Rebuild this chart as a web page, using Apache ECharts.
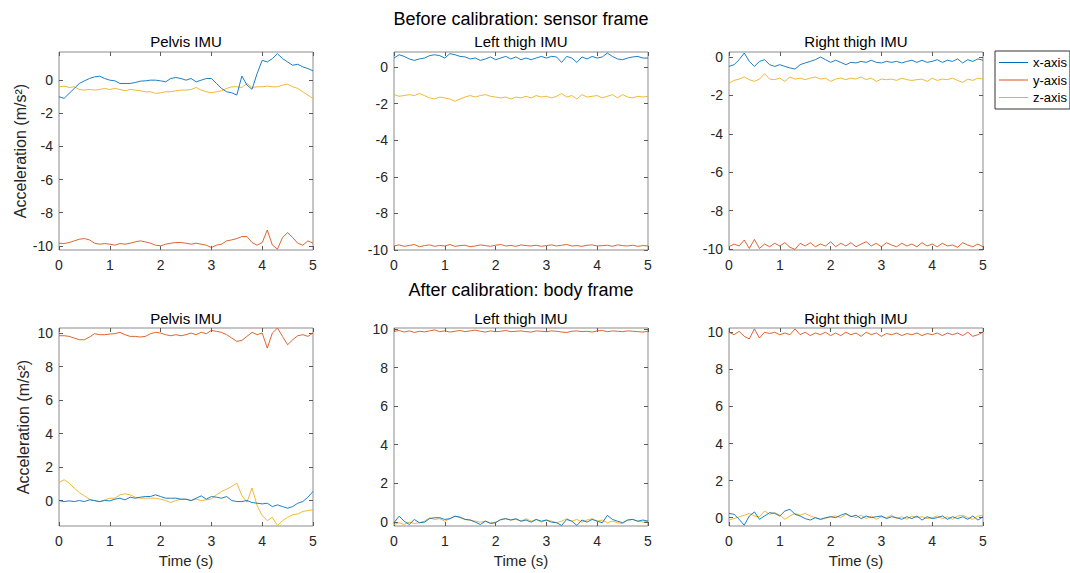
<!DOCTYPE html>
<html>
<head>
<meta charset="utf-8">
<script src="https://cdn.jsdelivr.net/npm/echarts@6/dist/echarts.min.js"></script>
<style>
  html, body { margin: 0; padding: 0; background: #fff; }
  #chart { width: 1070px; height: 573px; }
</style>
</head>
<body>
<div id="chart"></div>
<script type="text/javascript">
    // time samples (s)
    var times = [0, 0.1, 0.2, 0.3, 0.4, 0.5, 0.6, 0.7, 0.8, 0.9,
        1, 1.1, 1.2, 1.3, 1.4, 1.5, 1.6, 1.7, 1.8, 1.9,
        2, 2.1, 2.2, 2.3, 2.4, 2.5, 2.6, 2.7, 2.8, 2.9,
        3, 3.1, 3.2, 3.3, 3.4, 3.5, 3.6, 3.7, 3.8, 3.9,
        4, 4.1, 4.2, 4.3, 4.4, 4.5, 4.6, 4.7, 4.8, 4.9, 5];

    var xTicks = [0, 1, 2, 3, 4, 5];
    var yTicksBefore = [-10, -8, -6, -4, -2, 0];
    var yTicksAfter = [0, 2, 4, 6, 8, 10];
    var axisNames = ['x-axis', 'y-axis', 'z-axis'];
    var panelTitles = ['Pelvis IMU', 'Left thigh IMU', 'Right thigh IMU'];
    var rowTitles = ['Before calibration: sensor frame', 'After calibration: body frame'];

    // before calibration: sensor frame
    var pelvisBeforeX = [-1.0, -1.1, -0.8, -0.5, -0.2, -0.04, 0.1, 0.2, 0.24, 0.1,
        0, -0.04, -0.2, -0.2, -0.2, -0.14, -0.06, -0.04, 0, 0,
        -0.04, -0.1, 0.1, 0.16, 0.1, 0, 0.1, -0.1, 0, 0.1,
        0.1, -0.2, -0.5, -0.7, -0.76, -0.9, 0.25, -0.3, -0.55, 0.4,
        1.2, 1.1, 1.3, 1.6, 1.3, 1.1, 0.9, 0.96, 0.8, 0.7, 0.56];
    var pelvisBeforeY = [-9.84, -9.86, -9.8, -9.7, -9.6, -9.56, -9.64, -9.84, -9.9, -9.86,
        -9.9, -9.96, -9.86, -9.9, -9.84, -9.76, -9.7, -9.76, -9.84, -9.96,
        -10.0, -9.9, -9.84, -9.8, -9.8, -9.84, -9.9, -9.84, -9.9, -9.96,
        -10.1, -9.96, -9.9, -9.7, -9.64, -9.56, -9.44, -9.44, -9.8, -9.96,
        -9.8, -9.05, -9.95, -10.2, -9.5, -9.2, -9.5, -9.84, -9.96, -9.7, -9.84];
    var pelvisBeforeZ = [-0.4, -0.36, -0.44, -0.4, -0.56, -0.6, -0.56, -0.6, -0.56, -0.5,
        -0.56, -0.5, -0.56, -0.64, -0.56, -0.6, -0.64, -0.7, -0.7, -0.8,
        -0.76, -0.7, -0.7, -0.64, -0.6, -0.6, -0.56, -0.44, -0.6, -0.7,
        -0.76, -0.7, -0.64, -0.5, -0.4, -0.4, -0.44, -0.2, -0.44, -0.4,
        -0.4, -0.36, -0.4, -0.4, -0.3, -0.24, -0.4, -0.5, -0.7, -0.9, -1.1];

    var leftBeforeX = [0.49, 0.67, 0.58, 0.44, 0.36, 0.44, 0.49, 0.62, 0.67, 0.62,
        0.49, 0.73, 0.67, 0.58, 0.55, 0.44, 0.49, 0.36, 0.44, 0.55,
        0.4, 0.49, 0.58, 0.44, 0.55, 0.4, 0.49, 0.4, 0.49, 0.58,
        0.49, 0.58, 0.55, 0.25, 0.58, 0.49, 0.25, 0.55, 0.44, 0.58,
        0.49, 0.55, 0.76, 0.58, 0.44, 0.4, 0.49, 0.55, 0.58, 0.49, 0.49];
    var leftBeforeY = [-9.78, -9.72, -9.8, -9.75, -9.7, -9.82, -9.76, -9.72, -9.8, -9.75,
        -9.78, -9.7, -9.8, -9.76, -9.74, -9.82, -9.78, -9.72, -9.76, -9.8,
        -9.74, -9.7, -9.78, -9.75, -9.8, -9.72, -9.76, -9.78, -9.74, -9.8,
        -9.76, -9.72, -9.78, -9.74, -9.7, -9.78, -9.76, -9.8, -9.74, -9.72,
        -9.78, -9.76, -9.74, -9.8, -9.72, -9.76, -9.78, -9.74, -9.8, -9.76, -9.78];
    var leftBeforeZ = [-1.51, -1.6, -1.56, -1.51, -1.56, -1.45, -1.56, -1.69, -1.75, -1.64,
        -1.69, -1.75, -1.87, -1.75, -1.64, -1.56, -1.64, -1.56, -1.51, -1.6,
        -1.64, -1.69, -1.64, -1.75, -1.64, -1.69, -1.6, -1.69, -1.56, -1.64,
        -1.6, -1.69, -1.6, -1.45, -1.64, -1.56, -1.75, -1.51, -1.64, -1.6,
        -1.56, -1.69, -1.6, -1.51, -1.69, -1.51, -1.64, -1.69, -1.6, -1.64, -1.6];

    var rightBeforeX = [-0.49, -0.4, -0.14, 0.21, -0.23, -0.49, -0.23, -0.14, -0.4, -0.49,
        -0.4, -0.49, -0.57, -0.63, -0.4, -0.31, -0.23, -0.14, 0, -0.14,
        -0.28, -0.17, -0.28, -0.4, -0.28, -0.31, -0.23, -0.28, -0.17, -0.28,
        -0.31, -0.23, -0.28, -0.23, -0.31, -0.23, -0.17, -0.28, -0.17, -0.28,
        -0.23, -0.14, -0.28, -0.17, -0.23, -0.1, -0.31, -0.14, -0.23, -0.1, -0.17];
    var rightBeforeY = [-9.88, -9.74, -9.84, -9.53, -9.97, -9.5, -9.97, -9.74, -9.88, -9.7,
        -9.84, -9.67, -9.91, -10.02, -9.7, -9.84, -9.67, -9.88, -9.74, -9.84,
        -9.62, -9.88, -9.7, -9.84, -9.67, -9.88, -9.74, -9.62, -9.84, -9.7,
        -9.88, -9.67, -9.79, -9.88, -9.7, -9.84, -9.74, -9.88, -9.67, -9.84,
        -9.74, -9.88, -9.7, -9.84, -9.79, -9.91, -9.67, -9.79, -9.88, -9.74, -9.88];
    var rightBeforeZ = [-1.36, -1.22, -1.15, -1.04, -1.18, -1.27, -1.15, -0.87, -1.15, -1.18,
        -1.1, -1.27, -1.04, -1.15, -1.1, -1.18, -1.1, -1.04, -1.15, -1.1,
        -1.27, -1.15, -1.1, -1.18, -1.1, -1.15, -1.04, -1.18, -1.1, -1.27,
        -1.15, -1.18, -1.15, -1.22, -1.1, -1.18, -1.22, -1.18, -1.15, -1.27,
        -1.1, -1.22, -1.15, -1.18, -1.1, -1.22, -1.32, -1.15, -1.22, -1.1, -1.15];

    // after calibration: body frame
    var pelvisAfterX = [0, -0.06, -0.02, -0.06, 0, -0.06, 0.04, 0, -0.06, 0,
        -0.02, 0.08, 0.14, 0.04, 0.2, 0.14, 0.2, 0.24, 0.24, 0.34,
        0.24, 0.14, 0.14, 0.14, 0.08, 0.08, 0, 0.14, 0.28, 0.08,
        0.24, 0.2, 0.14, 0.24, 0, -0.06, -0.06, 0, -0.12, -0.16,
        -0.2, -0.16, -0.36, -0.26, -0.36, -0.46, -0.36, -0.16, -0.06, 0.2, 0.54];
    var pelvisAfterY = [9.84, 9.84, 9.8, 9.7, 9.6, 9.6, 9.76, 9.96, 9.9, 9.9,
        9.94, 9.96, 10.04, 9.9, 9.8, 9.8, 9.76, 9.8, 9.96, 10.04,
        10.0, 9.9, 9.84, 9.9, 9.84, 9.9, 10.0, 9.9, 10.04, 9.96,
        10.16, 10.1, 10.04, 9.9, 9.7, 9.5, 9.56, 9.8, 10.04, 9.9,
        10.0, 9.1, 10.0, 10.3, 9.8, 9.3, 9.6, 9.84, 9.9, 9.8, 10.0];
    var pelvisAfterZ = [1.08, 1.24, 1.04, 0.74, 0.48, 0.28, 0.08, -0.02, -0.08, 0.04,
        0.14, 0.14, 0.34, 0.4, 0.34, 0.2, 0.14, 0.14, 0.14, 0.14,
        0.08, 0, -0.12, 0, 0.08, 0.08, 0, 0.08, 0, 0.04,
        0.1, 0.34, 0.54, 0.68, 0.84, 1.04, 0.3, -0.1, 0.75, -0.3,
        -0.9, -1.2, -1.0, -1.5, -1.2, -1.0, -0.85, -0.8, -0.65, -0.6, -0.55];

    var leftAfterX = [-0.05, 0.29, 0.03, -0.14, 0.12, -0.05, -0.02, 0.16, 0.21, 0.21,
        0.12, 0.16, 0.29, 0.24, 0.12, 0.09, -0.02, -0.14, 0.03, -0.09,
        -0.05, 0.12, 0.16, 0.09, 0.16, 0.03, 0.09, -0.02, 0.12, 0.03,
        0.09, -0.02, -0.05, -0.19, 0.12, 0.03, -0.19, 0.09, -0.02, 0.12,
        0.03, -0.05, 0.33, 0.12, 0.03, -0.05, 0.09, 0.12, 0.03, 0.09, 0.03];
    var leftAfterY = [9.88, 9.92, 9.84, 9.9, 9.82, 9.88, 9.85, 9.9, 9.95, 9.86,
        9.9, 9.84, 9.88, 9.92, 9.86, 9.9, 9.94, 9.88, 9.84, 9.9,
        9.86, 9.88, 9.92, 9.86, 9.88, 9.9, 9.86, 9.84, 9.9, 9.88,
        9.86, 9.9, 9.88, 9.84, 9.82, 9.88, 9.9, 9.86, 9.88, 9.84,
        9.9, 9.92, 9.86, 9.9, 9.88, 9.86, 9.9, 9.88, 9.86, 9.84, 9.88];
    var leftAfterZ = [-0.14, -0.05, -0.14, -0.02, -0.09, -0.05, 0.03, 0.21, 0.12, 0.16,
        0.03, 0.16, 0.29, 0.21, 0.12, 0.09, 0.03, -0.02, 0.03, -0.05,
        -0.02, 0.09, 0.16, 0.09, 0.12, 0.03, 0.16, 0.03, 0.12, -0.02,
        0.09, 0.03, -0.05, 0.03, 0.16, 0.03, 0.12, -0.02, 0.09, 0.16,
        0.03, 0.09, -0.05, 0.03, -0.05, -0.09, 0.09, 0.12, 0.03, -0.02, 0.03];

    var rightAfterX = [0.23, 0.18, -0.09, -0.41, 0.09, 0.31, -0.09, 0.09, 0.27, 0.23,
        0.09, 0.36, 0.45, 0.18, 0.09, -0.05, -0.13, 0, -0.09, 0,
        0.05, 0, 0.13, 0.23, 0.05, 0.13, -0.05, 0.09, 0, 0.05,
        0.09, -0.05, 0.05, 0, -0.09, 0.05, -0.05, 0.09, -0.13, 0.05,
        -0.05, 0, 0.09, -0.09, 0.05, -0.05, 0.05, -0.09, 0.09, -0.13, 0.05];
    var rightAfterY = [10.0, 9.87, 10.05, 9.78, 9.64, 10.18, 9.69, 10.0, 9.93, 10.0,
        9.87, 9.96, 9.87, 10.18, 9.87, 10.0, 9.82, 9.96, 9.87, 10.0,
        9.82, 9.96, 9.82, 10.0, 9.87, 9.96, 9.78, 10.0, 9.87, 9.96,
        9.78, 9.93, 9.87, 9.96, 9.82, 9.93, 9.87, 9.96, 9.82, 9.93,
        9.87, 9.96, 9.82, 9.96, 9.87, 9.96, 9.82, 10.0, 9.78, 9.87, 10.0];
    var rightAfterZ = [-0.13, -0.05, 0.05, 0.13, 0.23, 0.09, 0.05, 0.36, 0.18, 0.27,
        0.13, -0.09, 0.09, 0.23, 0.13, 0.23, 0.09, 0, -0.09, -0.05,
        0.05, 0.09, 0, 0.18, 0.09, 0, 0.13, -0.05, 0.09, -0.09,
        0.05, 0, 0.13, -0.05, 0.05, -0.09, 0.09, 0, 0.05, -0.05,
        0, 0.09, -0.05, 0.05, -0.09, 0.09, 0.13, 0, -0.09, 0.09, 0.13];

    var panelData = [
        [pelvisBeforeX, pelvisBeforeY, pelvisBeforeZ],
        [leftBeforeX, leftBeforeY, leftBeforeZ],
        [rightBeforeX, rightBeforeY, rightBeforeZ],
        [pelvisAfterX, pelvisAfterY, pelvisAfterZ],
        [leftAfterX, leftAfterY, leftAfterZ],
        [rightAfterX, rightAfterY, rightAfterZ]
    ];
    // y limits of each subplot (tight to data, as in the figure)
    var yMin = [-10.25, -10.0, -10.05, -1.52, -0.22, -0.45];
    var yMax = [1.7, 0.82, 0.26, 10.3, 10.05, 10.23];

    var lineColors = ['#0072BD', '#D95319', '#EDB120'];
    var font = 'Liberation Sans, Arial, Helvetica, sans-serif';
    var textColor = '#262626';
    var colLeft = [59, 394, 729];
    var rowTop = [52, 328];
    var plotW = 254, plotH = 198;

    var grids = [], xAxes = [], yAxes = [], series = [], titles = [];

    titles.push({text: rowTitles[0], left: 521, top: 10, textAlign: 'center', padding: 0,
        textStyle: {fontSize: 18, fontWeight: 'normal', color: '#000', fontFamily: font}});
    titles.push({text: rowTitles[1], left: 521, top: 281, textAlign: 'center', padding: 0,
        textStyle: {fontSize: 18, fontWeight: 'normal', color: '#000', fontFamily: font}});

    for (var i = 0; i < 6; i++) {
        var row = Math.floor(i / 3), col = i % 3;
        var yTicks = row === 0 ? yTicksBefore : yTicksAfter;

        titles.push({text: panelTitles[col], left: colLeft[col] + plotW / 2, top: row === 0 ? 34 : 311,
            textAlign: 'center', padding: 0,
            textStyle: {fontSize: 15, fontWeight: 'normal', color: '#000', fontFamily: font}});

        grids.push({left: colLeft[col], top: rowTop[row], width: plotW, height: plotH,
            show: true, borderColor: '#8c8c8c', borderWidth: 1, backgroundColor: '#fff'});

        var tick = {inside: true, length: 4, lineStyle: {color: '#5a5a5a', width: 1}};

        xAxes.push({
            type: 'value', gridIndex: i, position: 'bottom', min: 0, max: 5, interval: 1,
            axisLine: {show: false, onZero: false}, axisTick: tick, splitLine: {show: false},
            axisLabel: {fontSize: 14, color: textColor, margin: 8, fontFamily: font},
            name: row === 1 ? 'Time (s)' : '', nameLocation: 'middle', nameGap: 27,
            nameTextStyle: {fontSize: 15, color: textColor, fontFamily: font}
        });
        xAxes.push({
            type: 'value', gridIndex: i, position: 'top', min: 0, max: 5, interval: 1,
            axisLine: {show: false, onZero: false}, axisTick: tick, splitLine: {show: false},
            axisLabel: {show: false}
        });
        yAxes.push({
            type: 'value', gridIndex: i, position: 'left', min: yMin[i], max: yMax[i],
            axisLine: {show: false, onZero: false}, splitLine: {show: false},
            axisTick: {inside: true, length: 4, lineStyle: {color: '#5a5a5a', width: 1}, customValues: yTicks},
            axisLabel: {fontSize: 14, color: textColor, margin: 6, fontFamily: font, customValues: yTicks},
            name: col === 0 ? 'Acceleration (m/s²)' : '', nameLocation: 'middle', nameGap: 28,
            nameTextStyle: {fontSize: 16, color: textColor, fontFamily: font}
        });
        yAxes.push({
            type: 'value', gridIndex: i, position: 'right', min: yMin[i], max: yMax[i],
            axisLine: {show: false, onZero: false}, splitLine: {show: false},
            axisTick: {inside: true, length: 4, lineStyle: {color: '#5a5a5a', width: 1}, customValues: yTicks},
            axisLabel: {show: false, customValues: yTicks}
        });

        for (var k = 0; k < 3; k++) {
            var vals = panelData[i][k];
            var pts = [];
            for (var j = 0; j < times.length; j++) {
                pts.push([times[j], vals[j]]);
            }
            series.push({
                name: axisNames[k], type: 'line', xAxisIndex: 2 * i, yAxisIndex: 2 * i,
                data: pts, symbol: 'none', showSymbol: false,
                lineStyle: {color: lineColors[k], width: 0.9}, itemStyle: {color: lineColors[k]},
                z: 2 + (k === 2 ? 0 : 1)
            });
        }
    }

    var option = {
        backgroundColor: '#fff',
        animation: false,
        title: titles,
        legend: {
            data: axisNames, orient: 'vertical', left: 995, top: 51,
            padding: [4, 3, 4, 4], itemWidth: 29, itemHeight: 1, itemGap: 2.5,
            icon: 'rect',
            borderColor: '#333', borderWidth: 1, backgroundColor: '#fff',
            textStyle: {fontSize: 13, color: '#000', fontFamily: font, lineHeight: 15}
        },
        grid: grids,
        xAxis: xAxes,
        yAxis: yAxes,
        series: series
    };

    var myChart = echarts.init(document.getElementById('chart'), null, {renderer: 'svg'});
    myChart.setOption(option);
</script>
</body>
</html>
